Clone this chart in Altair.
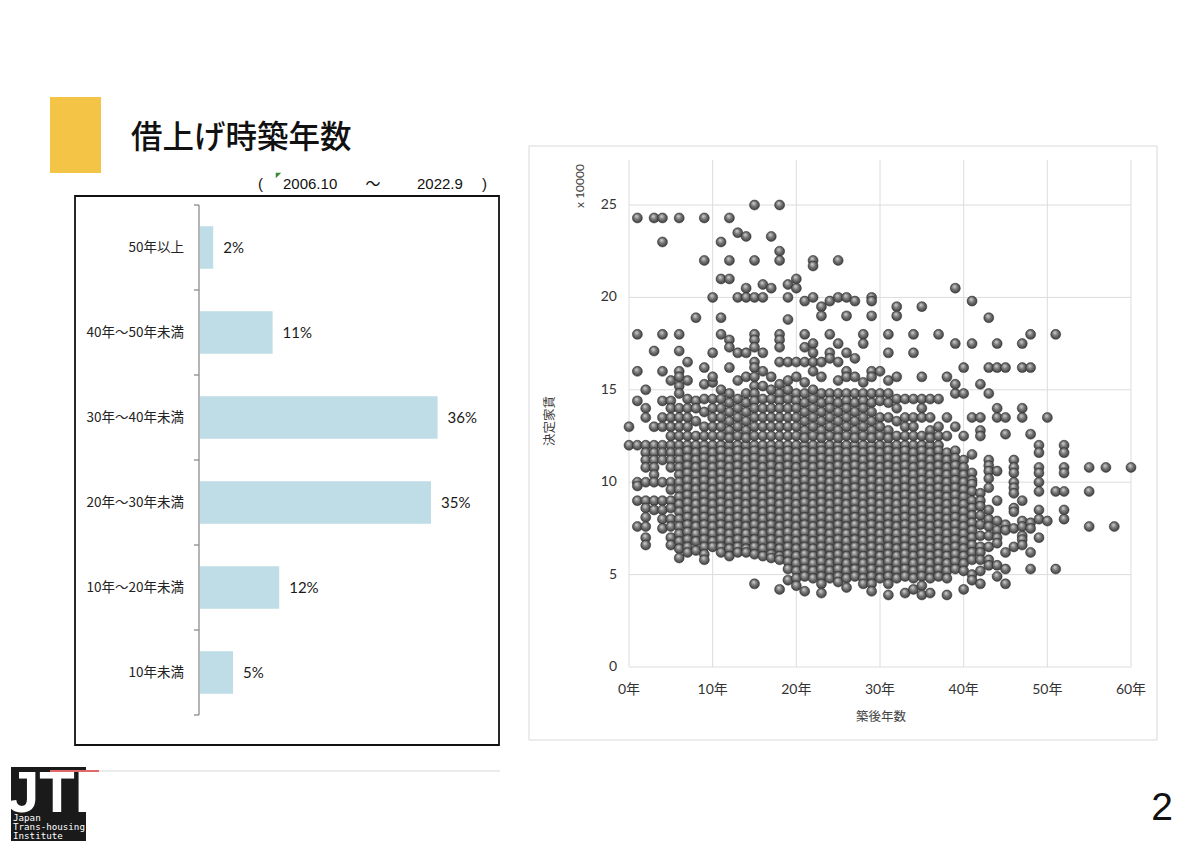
import altair as alt
import pandas as pd

# ---------------- bar chart values ----------------
bar_categories = ["50年以上", "40年～50年未満", "30年～40年未満",
                  "20年～30年未満", "10年～20年未満", "10年未満"]
bar_values = [2, 11, 36, 35, 12, 5]
bar_value_labels = ["2%", "11%", "36%", "35%", "12%", "5%"]
bar_edges = [0, 1, 2, 3, 4, 5, 6]

# ---------------- scatter axes ----------------
x_tick_values = [0, 10, 20, 30, 40, 50, 60]
x_tick_labels = ["0年", "10年", "20年", "30年", "40年", "50年", "60年"]
y_tick_values = [0, 5, 10, 15, 20, 25]
y_tick_labels = ["0", "5", "10", "15", "20", "25"]

# ---------------- scatter values (rent x10000 yen, by building age 0..60) ----------------
rent_upper_by_age = [
    [], [24.3, 18, 16], [], [24.3, 17.1], [24.3, 23, 18, 16], [15.5],
    [24.3, 18, 17.1, 16, 15.7], [16.5, 15.5], [18.9], [24.3, 22, 16.2], [20, 17, 15.7],
    [23, 21, 18.9, 18], [24.3, 22, 21, 17.7, 17.3, 16.2], [23.5, 20, 17, 15.5],
    [23.3, 20.5, 20, 17, 15.7], [25, 22, 20, 18, 17.7, 17.3, 16.5, 16.2, 15.7],
    [20.7, 20, 17, 16], [23.3, 20.5, 15.7], [25, 22.5, 22, 18, 17.7, 17.3, 16.5, 15.3],
    [20.7, 20, 18.8, 16.5, 15.5], [21, 20.5, 16.5, 15.7], [19.8, 18, 17.3, 16.5, 15.4],
    [22, 21.7, 20, 17.5, 17, 16.5, 16], [19.5, 19, 16.5, 15.7], [19.8, 18, 17, 16.7],
    [22, 20, 17.5, 16.5, 15.5], [20, 19, 17, 16, 15.7], [19.8, 16.7, 15.7],
    [18, 17.5, 15.4], [20, 19.8, 19, 16, 15.7], [16], [18, 17, 15.5], [19.5, 19, 15.7],
    [], [18, 17], [19.5, 15.7], [], [18], [15.7], [20.5, 17.5, 15.3], [16.2],
    [19.8, 17.5], [15.3], [18.9, 16.2], [17.5, 16.2], [16.2], [], [17.5, 16.2],
    [18, 16.2], [], [], [18], [], [], [], [], [], [], [], [], [],
]

rent_mid_by_age = [
    [13], [14.4], [15, 14, 13.5], [13], [14.4, 13.5, 13], [14.4, 14, 13.5, 13, 12.5],
    [15.2, 14.8, 14, 13.5, 13, 12.5], [14.5, 14, 13.5, 13, 12.5], [14.4, 14, 13.3, 12.5],
    [15.3, 14.5, 13.8, 13, 12.5], [15.4, 14.5, 14, 13.5, 13, 12.5],
    [15, 14.5, 14, 13.5, 13, 12.5], [14.8, 14.3, 13.8, 13.3, 12.8, 12.4],
    [14.5, 14, 13.5, 13, 12.5], [14.8, 14.3, 13.8, 13.3, 12.8, 12.4],
    [15.2, 14.8, 14.4, 14, 13.5, 13, 12.5], [15.2, 14.5, 14, 13.5, 13, 12.5],
    [15, 14.5, 14, 13.5, 13, 12.5], [14.8, 14.4, 14, 13.5, 13, 12.5],
    [15, 14.5, 14, 13.5, 13, 12.5], [14.8, 14.4, 14, 13.5, 13, 12.5],
    [14.8, 14.3, 13.8, 13.3, 12.8, 12.4], [15, 14.5, 14, 13.5, 13, 12.5],
    [14.8, 14.3, 13.8, 13.3, 12.8, 12.4], [14.8, 14.4, 14, 13.5, 13, 12.5],
    [14.8, 14.3, 13.8, 13.3, 12.8, 12.4], [14.8, 14.4, 14, 13.5, 13, 12.5],
    [14.8, 14.3, 13.8, 13.3, 12.8, 12.4], [14.8, 14.4, 14, 13.5, 13, 12.5],
    [14.8, 14.3, 13.8, 13.3, 12.8, 12.4], [14.8, 14.4, 13.5, 13, 12.5],
    [14.8, 14.3, 13.5, 12.8, 12.4], [14.5, 14, 13.3, 12.5], [14.5, 13.5, 13, 12.5],
    [14.5, 13.5, 13, 12.5], [14.5, 14, 13.5, 12.5], [14.5, 13.5, 12.8, 12.4],
    [14.5, 13, 12.5], [13.5, 12.5], [14.8, 13], [14.8, 12.5], [13.5],
    [13.5, 12.8, 12.5], [14.8], [14, 13.5], [13.5, 12.6], [], [14, 13.5], [12.6],
    [], [13.5], [], [], [], [], [], [], [], [], [], [],
]

rent_body_by_age = [
    [12],
    [12, 10, 9.8, 9, 7.6],
    [12, 11.6, 11.2, 10.8, 10, 9, 8.6, 8.1, 7.6, 7, 6.6],
    [12, 11.6, 11.2, 10.8, 10.4, 10, 9, 8.5],
    [12, 11.6, 11.2, 10, 9, 8.5, 8, 7.5],
    [12, 11.6, 11.2, 10.8, 10, 9.6, 9, 8.6, 8, 7.6, 7, 6.6],
    [12, 11.6, 11.2, 10.8, 10.4, 10, 9.6, 9.2, 8.8, 8.4, 8, 7.6, 7.2, 6.8, 6.4, 5.9],
    [12, 11.7, 11.3, 10.9, 10.5, 10.1, 9.7, 9.3, 8.9, 8.5, 8.1, 7.7, 7.3, 6.9, 6.5, 6.2],
    [12, 11.6, 11.2, 10.8, 10.4, 10, 9.6, 9.2, 8.8, 8.4, 8, 7.6, 7.2, 6.8, 6.3],
    [12, 11.7, 11.3, 10.9, 10.5, 10.1, 9.7, 9.3, 8.9, 8.5, 8.1, 7.7, 7.3, 6.9, 6.5, 6.1, 5.8],
    [12, 11.6, 11.2, 10.8, 10.4, 10, 9.6, 9.2, 8.8, 8.4, 8, 7.6, 7.2, 6.8, 6.5],
    [12, 11.7, 11.3, 10.9, 10.5, 10.1, 9.7, 9.3, 8.9, 8.5, 8.1, 7.7, 7.3, 6.9, 6.5, 6.2],
    [12, 11.6, 11.2, 10.8, 10.4, 10, 9.6, 9.2, 8.8, 8.4, 8, 7.6, 7.2, 6.8, 6.4, 6],
    [12, 11.7, 11.3, 10.9, 10.5, 10.1, 9.7, 9.3, 8.9, 8.5, 8.1, 7.7, 7.3, 6.9, 6.5, 6.2],
    [12, 11.6, 11.2, 10.8, 10.4, 10, 9.6, 9.2, 8.8, 8.4, 8, 7.6, 7.2, 6.8, 6.4, 6.2],
    [12, 11.7, 11.3, 10.9, 10.5, 10.1, 9.7, 9.3, 8.9, 8.5, 8.1, 7.7, 7.3, 6.9, 6.5, 6.1, 4.5],
    [12, 11.6, 11.2, 10.8, 10.4, 10, 9.6, 9.2, 8.8, 8.4, 8, 7.6, 7.2, 6.8, 6.4, 6],
    [12, 11.7, 11.3, 10.9, 10.5, 10.1, 9.7, 9.3, 8.9, 8.5, 8.1, 7.7, 7.3, 6.9, 6.5, 6.1, 5.9],
    [12, 11.6, 11.2, 10.8, 10.4, 10, 9.6, 9.2, 8.8, 8.4, 8, 7.6, 7.2, 6.8, 6.4, 6, 5.8, 4.2],
    [12, 11.7, 11.3, 10.9, 10.5, 10.1, 9.7, 9.3, 8.9, 8.5, 8.1, 7.7, 7.3, 6.9, 6.5, 6.1, 5.7, 5.3, 4.7],
    [12, 11.6, 11.2, 10.8, 10.4, 10, 9.6, 9.2, 8.8, 8.4, 8, 7.6, 7.2, 6.8, 6.4, 6, 5.6, 5.2, 4.8, 4.4],
    [12, 11.7, 11.3, 10.9, 10.5, 10.1, 9.7, 9.3, 8.9, 8.5, 8.1, 7.7, 7.3, 6.9, 6.5, 6.1, 5.7, 5.3, 4.9, 4.1],
    [12, 11.6, 11.2, 10.8, 10.4, 10, 9.6, 9.2, 8.8, 8.4, 8, 7.6, 7.2, 6.8, 6.4, 6, 5.6, 5.2, 4.8],
    [12, 11.7, 11.3, 10.9, 10.5, 10.1, 9.7, 9.3, 8.9, 8.5, 8.1, 7.7, 7.3, 6.9, 6.5, 6.1, 5.7, 5.3, 4.9, 4.5, 4.0],
    [12, 11.6, 11.2, 10.8, 10.4, 10, 9.6, 9.2, 8.8, 8.4, 8, 7.6, 7.2, 6.8, 6.4, 6, 5.6, 5.2, 4.8],
    [12, 11.7, 11.3, 10.9, 10.5, 10.1, 9.7, 9.3, 8.9, 8.5, 8.1, 7.7, 7.3, 6.9, 6.5, 6.1, 5.7, 5.3, 4.9, 4.6],
    [12, 11.6, 11.2, 10.8, 10.4, 10, 9.6, 9.2, 8.8, 8.4, 8, 7.6, 7.2, 6.8, 6.4, 6, 5.6, 5.2, 4.8, 4.3],
    [12, 11.7, 11.3, 10.9, 10.5, 10.1, 9.7, 9.3, 8.9, 8.5, 8.1, 7.7, 7.3, 6.9, 6.5, 6.1, 5.7, 5.3, 4.9],
    [12, 11.6, 11.2, 10.8, 10.4, 10, 9.6, 9.2, 8.8, 8.4, 8, 7.6, 7.2, 6.8, 6.4, 6, 5.6, 5.2, 4.8, 4.5],
    [12, 11.7, 11.3, 10.9, 10.5, 10.1, 9.7, 9.3, 8.9, 8.5, 8.1, 7.7, 7.3, 6.9, 6.5, 6.1, 5.7, 5.3, 4.9, 4.5, 4.1],
    [12, 11.6, 11.2, 10.8, 10.4, 10, 9.6, 9.2, 8.8, 8.4, 8, 7.6, 7.2, 6.8, 6.4, 6, 5.6, 5.2, 4.8],
    [12, 11.7, 11.3, 10.9, 10.5, 10.1, 9.7, 9.3, 8.9, 8.5, 8.1, 7.7, 7.3, 6.9, 6.5, 6.1, 5.7, 5.3, 4.9, 4.5, 3.9],
    [12, 11.6, 11.2, 10.8, 10.4, 10, 9.6, 9.2, 8.8, 8.4, 8, 7.6, 7.2, 6.8, 6.4, 6, 5.6, 5.2, 4.8],
    [12, 11.7, 11.3, 10.9, 10.5, 10.1, 9.7, 9.3, 8.9, 8.5, 8.1, 7.7, 7.3, 6.9, 6.5, 6.1, 5.7, 5.3, 4.9, 4.0],
    [12, 11.6, 11.2, 10.8, 10.4, 10, 9.6, 9.2, 8.8, 8.4, 8, 7.6, 7.2, 6.8, 6.4, 6, 5.6, 5.2, 4.8, 4.2],
    [12, 11.7, 11.3, 10.9, 10.5, 10.1, 9.7, 9.3, 8.9, 8.5, 8.1, 7.7, 7.3, 6.9, 6.5, 6.1, 5.7, 5.3, 4.9, 4.4, 3.9],
    [12, 11.6, 11.2, 10.8, 10.4, 10, 9.6, 9.2, 8.8, 8.4, 8, 7.6, 7.2, 6.8, 6.4, 6, 5.6, 5.2, 4.8, 4.0],
    [12, 11.7, 11.3, 10.9, 10.5, 10.1, 9.7, 9.3, 8.9, 8.5, 8.1, 7.7, 7.3, 6.9, 6.5, 6.1, 5.7, 5.3, 4.9],
    [11.6, 11.2, 10.8, 10.4, 10, 9.6, 9.2, 8.8, 8.4, 8, 7.6, 7.2, 6.8, 6.4, 6, 5.6, 5.2, 4.8, 3.9],
    [11.7, 11.3, 10.9, 10.5, 10.1, 9.7, 9.3, 8.9, 8.5, 8.1, 7.7, 7.3, 6.9, 6.5, 6.1, 5.7, 5.3],
    [11.2, 10.8, 10.4, 10, 9.6, 9.2, 8.8, 8.4, 8, 7.6, 7.2, 6.8, 6.4, 6, 5.6, 5.2, 4.2],
    [11.5, 10.5, 10.1, 9.9, 9.5, 9, 8.6, 8.2, 7.8, 7.4, 7, 6.6, 6.2, 5.8, 5, 4.7],
    [9.4, 9, 8.7, 8.2, 7.7, 7.1, 6.5, 6.2, 5.8, 5.2, 4.5],
    [11.2, 10.9, 10.6, 10.2, 9.7, 8.5, 8, 7.6, 7.1, 6.5, 5.8, 5.5],
    [10.6, 9, 7.9, 7.4, 7, 6.7, 5.5, 4.9],
    [7.7, 7.4, 6.2, 5.3, 4.5],
    [11.2, 10.8, 10.5, 10, 9.7, 9.4, 8.6, 8.4, 7.5, 6.5],
    [9, 7.9, 7.6, 7.1, 6.9, 6.6],
    [7.8, 7.5, 6.2, 5.3],
    [12, 11.6, 10.8, 10.5, 10, 9.5, 8.5, 8, 7],
    [7.9],
    [9.5, 5.3],
    [12, 11.6, 10.8, 10.5, 9.5, 8.5, 8],
    [], [],
    [10.8, 9.5, 7.6],
    [],
    [10.8],
    [7.6],
    [],
    [10.8],
]

# ---------------- tables ----------------
bar_df = pd.DataFrame({"cat": bar_categories, "value": bar_values, "label": bar_value_labels})
edge_df = pd.DataFrame({"edge": bar_edges})
xt_df = pd.DataFrame({"v": x_tick_values, "label": x_tick_labels})
yt_df = pd.DataFrame({"v": y_tick_values, "label": y_tick_labels})
rows = []
for group in (rent_body_by_age, rent_mid_by_age, rent_upper_by_age):
    for age, rents in enumerate(group):
        for r in rents:
            rows.append((age, r))
pts_df = pd.DataFrame(rows, columns=["age", "rent"])
one = pd.DataFrame({"k": [0]})

O = 8  # page margin: view coordinate = page coordinate - 8
JP = "Noto Sans CJK JP"
NUM = "Lato, Noto Sans CJK JP"


def rect(x, y, x2, y2, **kw):
    return alt.Chart(one).mark_rect(**kw).encode(
        x=alt.value(x - O), y=alt.value(y - O), x2=alt.value(x2 - O), y2=alt.value(y2 - O))


def rule(x, y, x2, y2, **kw):
    return alt.Chart(one).mark_rule(**kw).encode(
        x=alt.value(x - O), y=alt.value(y - O), x2=alt.value(x2 - O), y2=alt.value(y2 - O))


def text(t, x, y, **kw):
    kw.setdefault("baseline", "alphabetic")
    return alt.Chart(one).mark_text(**kw).encode(
        x=alt.value(x - O), y=alt.value(y - O), text=alt.value(t))


# ---------------- decorations ----------------
deco = [
    rect(529, 146, 1157, 740, fill="white", stroke="#D9D9D9", strokeWidth=1),
    rect(50, 97, 101, 173, fill="#F3C445"),
    text("借上げ時築年数", 131, 148, font=JP, fontSize=31.5, fontWeight=500,
         align="left", color="#111"),
    text("(", 258, 189, font="Liberation Sans", fontSize=15, align="left", color="#111"),
    text("2006.10", 283, 189, font="Liberation Sans", fontSize=15, align="left", color="#111"),
    text("～", 373, 189, font=JP, fontSize=15, align="center", color="#111"),
    text("2022.9", 417, 189, font="Liberation Sans", fontSize=15, align="left", color="#111"),
    text(")", 482, 189, font="Liberation Sans", fontSize=15, align="left", color="#111"),
    alt.Chart(one).mark_point(shape="M-1,-1L1,-1L-1,1Z", filled=True, size=30,
                              color="#3A8A3A", opacity=1).encode(
        x=alt.value(278.5 - O), y=alt.value(175.5 - O)),
    rect(75, 196, 499, 745, fill="white", fillOpacity=0, stroke="#111", strokeWidth=1.8),
    # logo
    rect(11, 767, 86, 842, fill="#1a1a1a"),
    text("JTI", 49, 812, font="Liberation Sans Narrow, Liberation Sans", fontWeight="bold",
         fontSize=58, align="center", color="white"),
    text("Japan", 13, 821, font="DejaVu Sans Mono", fontSize=9.2, align="left", color="white"),
    text("Trans-housing", 13, 830, font="DejaVu Sans Mono", fontSize=9.2, align="left", color="white"),
    text("Institute", 13, 839, font="DejaVu Sans Mono", fontSize=9.2, align="left", color="white"),
    rule(99, 771, 500, 771, color="#EBEBEB", strokeWidth=2),
    rule(50, 771, 99, 771, color="#E06A6A", strokeWidth=2),
    text("2", 1162, 820, font="Liberation Sans", fontSize=39, align="center", color="#111"),
    # scatter titles
    text("決定家賃", 550, 421, font=JP, fontSize=12.5, angle=270, align="center",
         baseline="middle", color="#404040"),
    text("x 10000", 580, 186, font=NUM, fontSize=12, angle=270, align="center",
         baseline="middle", color="#404040"),
    text("築後年数", 881, 717, font=JP, fontSize=12.5, align="center",
         baseline="middle", color="#404040"),
]

# ---------------- bar chart ----------------
xs_bar = alt.Scale(domain=[0, 40], range=[200 - O, 464 - O], nice=False, zero=True)
ys_bar = alt.Scale(domain=bar_categories, range=[205 - O, 715 - O],
                   paddingInner=0.5, paddingOuter=0.25)
bars = alt.Chart(bar_df).mark_bar(color="#BEDDE6").encode(
    x=alt.X("value:Q", scale=xs_bar, axis=None),
    y=alt.Y("cat:N", scale=ys_bar, axis=None, sort=bar_categories),
)
bar_vals = alt.Chart(bar_df).mark_text(align="left", baseline="middle", dx=10,
                                       font=NUM, fontSize=15, color="#1a1a1a").encode(
    x=alt.X("value:Q", scale=xs_bar, axis=None),
    y=alt.Y("cat:N", scale=ys_bar, axis=None, sort=bar_categories),
    text="label:N",
)
bar_cats = alt.Chart(bar_df).mark_text(align="right", baseline="middle",
                                       font=JP, fontSize=13.5, color="#222").encode(
    x=alt.value(184 - O),
    y=alt.Y("cat:N", scale=ys_bar, axis=None, sort=bar_categories),
    text="cat:N",
)
bar_layer = alt.layer(bars, bar_vals, bar_cats)

edge_ticks = alt.Chart(edge_df).mark_rule(color="#8C8C8C", strokeWidth=1.3).encode(
    y=alt.Y("edge:Q", scale=alt.Scale(domain=[0, 6], range=[205 - O, 715 - O], nice=False, zero=False), axis=None),
    x=alt.value(194 - O), x2=alt.value(199 - O),
)
axis_line = rule(199, 205, 199, 715, color="#8C8C8C", strokeWidth=1.3)

# ---------------- scatter ----------------
xs = alt.Scale(domain=[0, 60], range=[629 - O, 1131 - O], nice=False, zero=False)
ys = alt.Scale(domain=[0, 25], range=[667 - O, 205 - O], nice=False, zero=False)

vgrid = alt.Chart(xt_df).mark_rule(color="#DCDCDC", strokeWidth=1).encode(
    x=alt.X("v:Q", scale=xs, axis=None), y=alt.value(160 - O), y2=alt.value(667 - O))
hgrid = alt.Chart(yt_df).mark_rule(color="#DCDCDC", strokeWidth=1).encode(
    y=alt.Y("v:Q", scale=ys, axis=None), x=alt.value(629 - O), x2=alt.value(1131 - O))
xlab = alt.Chart(xt_df).mark_text(baseline="middle", font=NUM, fontSize=14, color="#333").encode(
    x=alt.X("v:Q", scale=xs, axis=None), y=alt.value(690 - O), text="label:N")
ylab = alt.Chart(yt_df).mark_text(align="right", baseline="middle", font=NUM, fontSize=14,
                                  color="#333").encode(
    y=alt.Y("v:Q", scale=ys, axis=None), x=alt.value(617 - O), text="label:N")

sphere = alt.RadialGradient(
    gradient="radial",
    stops=[alt.GradientStop(offset=0, color="#dadada"),
           alt.GradientStop(offset=0.45, color="#777777"),
           alt.GradientStop(offset=1, color="#2e2e2e")],
    x1=0.4, y1=0.3, r1=0, x2=0.5, y2=0.5, r2=0.6,
)
points = alt.Chart(pts_df).mark_circle(size=100, opacity=1, fill=sphere,
                                       stroke="#2a2a2a", strokeWidth=0.5).encode(
    x=alt.X("age:Q", scale=xs, axis=None),
    y=alt.Y("rent:Q", scale=ys, axis=None),
)
scatter_layer = alt.layer(vgrid, hgrid, xlab, ylab, points)

chart = alt.layer(
    *deco, bar_layer, edge_ticks, axis_line, scatter_layer
).resolve_scale(x="independent", y="independent").properties(
    width=1184, height=833, padding=0, autosize="none"
).configure_view(stroke=None)

chart.save("out.html", embed_options={"renderer": "svg", "actions": False})
